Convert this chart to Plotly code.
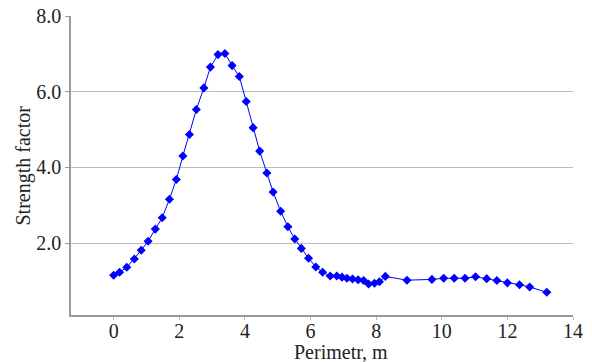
import plotly.graph_objects as go

perimeter = [0, 0.18, 0.40, 0.63, 0.84, 1.05, 1.27, 1.48, 1.70, 1.91, 2.11, 2.31, 2.52, 2.75,
             2.95, 3.18, 3.39, 3.61, 3.83, 4.04, 4.25, 4.45, 4.67, 4.86, 5.09, 5.31, 5.52,
             5.72, 5.94, 6.16, 6.37, 6.60, 6.80, 6.96, 7.11, 7.28, 7.45, 7.62, 7.77, 7.95,
             8.10, 8.28, 8.94, 9.70, 10.06, 10.38, 10.71, 11.03, 11.37, 11.68, 12.00,
             12.37, 12.68, 13.20]
strength = [1.15, 1.23, 1.36, 1.58, 1.81, 2.05, 2.37, 2.67, 3.16, 3.68, 4.30, 4.87, 5.53, 6.10,
            6.65, 6.98, 7.01, 6.69, 6.40, 5.74, 5.05, 4.43, 3.85, 3.35, 2.84, 2.43, 2.11,
            1.86, 1.60, 1.37, 1.23, 1.13, 1.13, 1.10, 1.07, 1.05, 1.03, 1.01, 0.92, 0.94,
            0.98, 1.12, 1.02, 1.04, 1.07, 1.07, 1.07, 1.11, 1.06, 1.01, 0.95, 0.90, 0.84,
            0.70]
x_ticks = [0, 2, 4, 6, 8, 10, 12, 14]
y_ticks = [2.0, 4.0, 6.0, 8.0]

FONT = "Liberation Serif"

fig = go.Figure()
fig.add_trace(go.Scatter(
    x=perimeter, y=strength, mode="lines+markers",
    line=dict(color="#0000FF", width=1),
    marker=dict(symbol="diamond", size=7, color="#0000FF"),
    showlegend=False,
))

fig.update_layout(
    width=592, height=362,
    margin=dict(l=71, r=19, t=16, b=47, autoexpand=False),
    paper_bgcolor="white", plot_bgcolor="white",
    font=dict(family=FONT, size=20, color="#222222"),
    xaxis=dict(
        range=[-1.3, 14], tickvals=x_ticks, ticktext=[str(v) for v in x_ticks],
        showgrid=False, zeroline=False, automargin=False,
        showline=True, linecolor="#999999", linewidth=1.5,
        ticks="outside", ticklen=3, tickcolor="#bbbbbb", tickwidth=1,
        ticklabelstandoff=-6,
        tickfont=dict(family=FONT, size=20, color="#222222"),
    ),
    yaxis=dict(
        range=[0.1, 8.0], tickvals=y_ticks, ticktext=[f"{v:.1f}" for v in y_ticks],
        showgrid=True, gridcolor="#bbbbbb", gridwidth=1, zeroline=False, automargin=False,
        showline=True, linecolor="#999999", linewidth=1.5,
        ticks="outside", ticklen=4, tickcolor="#999999", tickwidth=1,
        tickfont=dict(family=FONT, size=20, color="#222222"),
    ),
    annotations=[
        dict(text="Perimetr, m", xref="paper", yref="paper", x=0.538, y=-0.124,
             xanchor="center", yanchor="middle", showarrow=False,
             font=dict(family=FONT, size=20, color="#222222")),
        dict(text="Strength factor", xref="paper", yref="paper", x=-0.0956, y=0.5,
             xanchor="center", yanchor="middle", textangle=-90, showarrow=False,
             font=dict(family=FONT, size=20, color="#222222")),
    ],
)

fig.write_html("out.html", config={"displayModeBar": False},
               post_script="document.body.style.margin='0';")
